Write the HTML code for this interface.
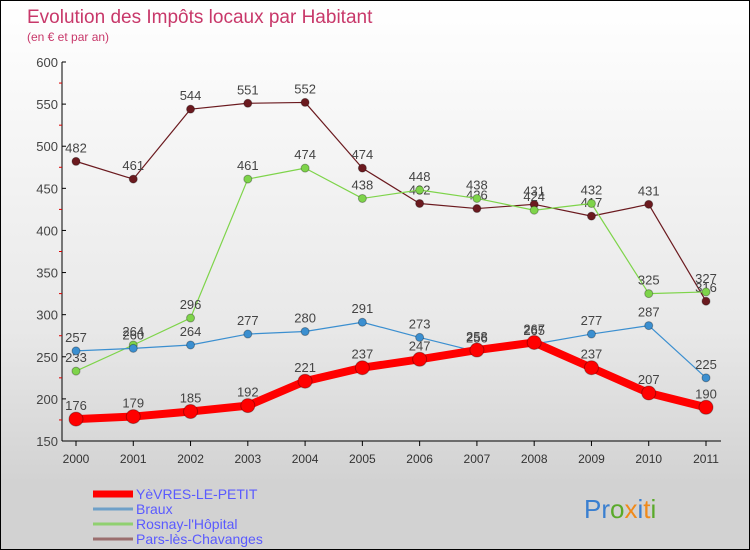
<!DOCTYPE html>
<html><head><meta charset="utf-8"><style>
body{margin:0}
#wrap{width:748px;height:548px;border:1px solid #000;position:relative;overflow:hidden;background:linear-gradient(#fff 0%,#e8e8e8 60%,#d2d2d2 88%,#d2d2d2 100%);font-family:"Liberation Sans",sans-serif}
svg{position:absolute;left:0;top:0}
</style></head><body>
<div id="wrap">
<svg id="s" width="750" height="550">
<text x="26" y="22" font-size="19" fill="#c8386a">Evolution des Impôts locaux par Habitant</text>
<text x="26" y="40" font-size="12" fill="#c8386a">(en € et par an)</text>
<text x="583" y="517" font-size="26"><tspan fill="#3a7fd0">Pr</tspan><tspan fill="#5aaa2a">o</tspan><tspan fill="#f08a1a">x</tspan><tspan fill="#3a7fd0">i</tspan><tspan fill="#f08a1a">t</tspan><tspan fill="#5aaa2a">i</tspan></text>
</svg>
</div>
<script>
const years=[2000,2001,2002,2003,2004,2005,2006,2007,2008,2009,2010,2011];
const yTicks=[150,200,250,300,350,400,450,500,550,600];
const yevres=[176,179,185,192,221,237,247,258,267,237,207,190];
const braux=[257,260,264,277,280,291,273,256,265,277,287,225];
const rosnay=[233,264,296,461,474,438,448,438,424,432,325,327];
const pars=[482,461,544,551,552,474,432,426,431,417,431,316];
const names=["YèVRES-LE-PETIT","Braux","Rosnay-l'Hôpital","Pars-lès-Chavanges"];
const svg=document.getElementById('s');const NS='http://www.w3.org/2000/svg';
const X=i=>75+i*(705-75)/11;
const Y=v=>440-(v-150)*(440-61)/450;
function el(t,a,p){const e=document.createElementNS(NS,t);for(const k in a)e.setAttribute(k,a[k]);(p||svg).appendChild(e);return e;}
let ax=el('line',{x1:61,y1:61,x2:61,y2:440,stroke:'#000'});

let xa=el('line',{x1:61,y1:440,x2:720,y2:440,stroke:'#000'});

yTicks.forEach(v=>{el('line',{x1:61,y1:Y(v),x2:65,y2:Y(v),stroke:'#000'});
 const t=el('text',{x:57,y:Y(v)+5,'font-size':13,fill:'#444','text-anchor':'end'});t.textContent=v;
 
 if(v<600){el('line',{x1:58,y1:Y(v+25),x2:61,y2:Y(v+25),stroke:'#d00'});}});
years.forEach((y,i)=>{el('line',{x1:X(i),y1:440,x2:X(i),y2:445,stroke:'#000'});
 const t=el('text',{x:X(i),y:462,'font-size':12,fill:'#333','text-anchor':'middle'});t.textContent=y;
 });
function series(d,color,w,r,name){
 const g=el('g',{});
 el('polyline',{points:d.map((v,i)=>X(i)+','+Y(v)).join(' '),fill:'none',stroke:color,'stroke-width':w,'stroke-linejoin':'round'},g);
 d.forEach((v,i)=>{const c=el('circle',{cx:X(i),cy:Y(v),r:r,fill:color,stroke:'rgba(0,0,0,0.3)'},g);
  
  const t=el('text',{x:X(i),y:Y(v)-9,'font-size':13,fill:'#444','text-anchor':'middle'},g);t.textContent=v;});
}
series(pars,'#6b1a1f',1.2,4,'series-pars');
series(rosnay,'#7ed44a',1.2,4,'series-rosnay');
series(braux,'#3b8fd0',1.2,4,'series-braux');
series(yevres,'#ff0000',8,7,'series-yevres');
const lc=['#f00','#6fa0c8','#90d070','#9b6e6e'],lw=[7,3,3,3];
names.forEach((n,i)=>{const y=493+i*15;
 const g=el('g',{});
 el('line',{x1:92,y1:y,x2:132,y2:y,stroke:lc[i],'stroke-width':lw[i]},g);
 const t=el('text',{x:135,y:y+5,'font-size':14,fill:'#5a5aff'},g);t.textContent=n;});
</script>
</body></html>
